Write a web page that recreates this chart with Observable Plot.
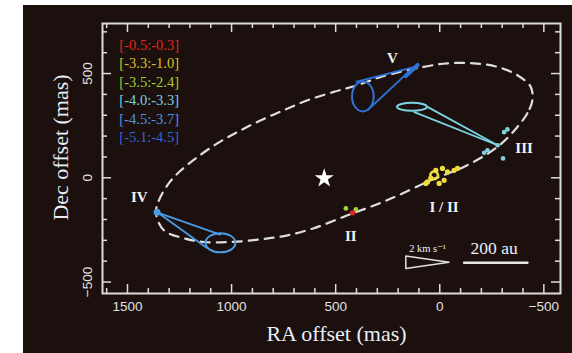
<!DOCTYPE html>
<html>
<head>
<meta charset="utf-8">
<script src="https://cdn.jsdelivr.net/npm/d3@7"></script>
<script src="https://cdn.jsdelivr.net/npm/@observablehq/plot@0.6"></script>
<style>
  html, body { margin: 0; padding: 0; background: #ffffff; }
  #panel { position: absolute; left: 23px; top: 5px; width: 549px; height: 348px; background: #1b100d; }
  #panel svg { display: block; }
</style>
</head>
<body>
<div id="panel"></div>
<script>
// ---- axis ticks ----
const xMajor = [1500, 1000, 500, 0, -500];
const xMajorLabels = ["1500", "1000", "500", "0", "\u2212500"];
const xMinor = [1600, 1400, 1300, 1200, 1100, 900, 800, 700, 600, 400, 300, 200, 100, -100, -200, -300, -400];
const yMajor = [500, 0, -500];
const yMajorLabels = ["500", "0", "\u2212500"];
const yMinor = [700, 600, 400, 300, 200, 100, -100, -200, -300, -400];

// ---- fitted orbit (points read along the dashed ellipse) ----
const orbitRA  = [-445, -421, -373, -277, -115, 43, 251, 443, 605, 731, 859, 1003, 1133, 1229, 1325, 1363, 1349, 1301, 1243, 1163, 1067, 971, 859, 749, 635, 509, 395, 283, 77, -37, -163, -277, -373, -437];
const orbitDec = [372, 310, 244, 148, 52, -12, -107, -180, -242, -276, -295, -308, -308, -290, -252, -170, -108, -26, 36, 100, 166, 220, 276, 324, 372, 412, 444, 484, 532, 549, 549, 532, 492, 436];

// ---- star ----
const starRA = [555], starDec = [-3];

// ---- velocity-range legend ----
const legendLabels = ["[-0.5:-0.3]", "[-3.3:-1.0]", "[-3.5:-2.4]", "[-4.0:-3.3]", "[-4.5:-3.7]", "[-5.1:-4.5]"];
const legendColors = ["#e3261d", "#d9c21f", "#9fcf2e", "#74d2e0", "#4c95e2", "#3166d6"];
const legendRA  = [1539, 1539, 1539, 1539, 1539, 1539];
const legendDec = [636, 548, 459, 370, 282, 193];

// ---- maser spots ----
const yellowRA  = [59, 67, 3, -21, -13, -37, -69, -85, 19, 43];
const yellowDec = [-20, -27, -27, -12, 45, 28, 36, 45, 36, -2];
const yellowRingRA = [27], yellowRingDec = [12];
const greenRA = [451, 403], greenDec = [-147, -152];
const redRA = [419], redDec = [-168];
const cyanRA  = [-325, -309, -229, -213, -304, -278];
const cyanDec = [232, 219, 132, 120, 93, 156];
const ivBlobRA = [1358], ivBlobDec = [-165];

// ---- proper-motion cones: ellipse + two edges to apex ----
const coneNames = ["V", "III", "IV"];
const coneColors = ["#2f72d8", "#7dd3e3", "#4a9be3"];
const ellCX = [367, 131, 1051];
const ellCY = [388, 338, -314];
const ellRX = [52, 72, 72];
const ellRY = [72, 19, 46];
const edgeX1 = [403, 347, 59, 125, 1051, 1115];
const edgeY1 = [460, 324, 340, 316, -274, -339];
const edgeX2 = [125, 125, -278, -278, 1355, 1355];
const edgeY2 = [531, 531, 156, 156, -167, -167];
const edgeColor = ["#2f72d8", "#2f72d8", "#7dd3e3", "#7dd3e3", "#4a9be3", "#4a9be3"];
const vBlob = {x1: [163], y1: [488], x2: [106], y2: [541]};

// ---- feature labels ----
const featLabels = ["V", "III", "I / II", "II", "IV"];
const featRA  = [227, -405, -21, 427, 1443];
const featDec = [573, 141, -140, -280, -92];

// ---- scale indicators ----
const arrowRA  = [163, 163, -45, 163];
const arrowDec = [-375, -435, -405, -375];
const barRA = [-117, -421], barDec = [-408, -408];
const scaleTexts = ["2 km s\u207B\u00B9", "200 au"];
const scaleTextRA = [59, -261], scaleTextDec = [-339, -339];

const W = 549, H = 348, mL = 79, mR = 12, mT = 18, mB = 60;
const FW = W - mL - mR, FH = H - mT - mB;
const axisColor = "#dcdcdc";
const serif = "'Liberation Serif', 'DejaVu Serif', serif";
const sans = "'Liberation Sans', Arial, sans-serif";

const idx = (a) => a.map((_, i) => i);

function ellipseMark(index, scales) {
  const g = d3.create("svg:g");
  for (let i = 0; i < ellCX.length; i++) {
    const cx = scales.x(ellCX[i]), cy = scales.y(ellCY[i]);
    g.append("ellipse")
      .attr("cx", cx).attr("cy", cy)
      .attr("rx", Math.abs(scales.x(ellCX[i] + ellRX[i]) - cx))
      .attr("ry", Math.abs(scales.y(ellCY[i] + ellRY[i]) - cy))
      .attr("fill", "none").attr("stroke", coneColors[i]).attr("stroke-width", 2);
  }
  return g.node();
}

const chart = Plot.plot({
  width: W, height: H,
  marginLeft: mL, marginRight: mR, marginTop: mT, marginBottom: mB,
  x: {domain: [1620, -580], axis: null},
  y: {domain: [-555, 740], axis: null},
  style: {background: "transparent", overflow: "visible"},
  marks: [
    // ticks (pointing inward on all four sides)
    Plot.ruleX(xMinor, {stroke: axisColor, strokeWidth: 1.5, insetTop: FH - 5}),
    Plot.ruleX(xMajor, {stroke: axisColor, strokeWidth: 1.5, insetTop: FH - 9}),
    Plot.ruleX(xMinor, {stroke: axisColor, strokeWidth: 1.5, insetBottom: FH - 5}),
    Plot.ruleX(xMajor, {stroke: axisColor, strokeWidth: 1.5, insetBottom: FH - 9}),
    Plot.ruleY(yMinor, {stroke: axisColor, strokeWidth: 1.5, insetRight: FW - 5}),
    Plot.ruleY(yMajor, {stroke: axisColor, strokeWidth: 1.5, insetRight: FW - 9}),
    Plot.ruleY(yMinor, {stroke: axisColor, strokeWidth: 1.5, insetLeft: FW - 5}),
    Plot.ruleY(yMajor, {stroke: axisColor, strokeWidth: 1.5, insetLeft: FW - 9}),
    Plot.frame({stroke: axisColor, strokeWidth: 2}),

    // tick labels
    Plot.text(idx(xMajor), {x: i => xMajor[i], text: i => xMajorLabels[i], frameAnchor: "bottom", dy: 13,
      lineAnchor: "middle", fill: "#e0e0e0", fontSize: 13.5, fontFamily: sans}),
    Plot.text(idx(yMajor), {y: i => yMajor[i], text: i => yMajorLabels[i], frameAnchor: "left", dx: -15,
      rotate: -90, textAnchor: "middle", lineAnchor: "middle", fill: "#e0e0e0", fontSize: 13.5, fontFamily: sans}),

    // axis titles
    Plot.text(["RA offset (mas)"], {frameAnchor: "bottom", dx: 5, dy: 40, lineAnchor: "middle",
      fill: "#e8eef8", fontSize: 22, fontFamily: serif}),
    Plot.text(["Dec offset (mas)"], {frameAnchor: "left", dx: -42, dy: -11, rotate: -90, textAnchor: "middle",
      lineAnchor: "middle", fill: "#e8eef8", fontSize: 22, fontFamily: serif}),

    // orbit
    Plot.line(idx(orbitRA), {x: i => orbitRA[i], y: i => orbitDec[i], curve: "catmull-rom-closed",
      stroke: "#dedede", strokeWidth: 2.2, strokeDasharray: "9,7"}),

    // cones
    ellipseMark,
    Plot.link(idx(edgeX1), {x1: i => edgeX1[i], y1: i => edgeY1[i], x2: i => edgeX2[i], y2: i => edgeY2[i],
      stroke: i => edgeColor[i], strokeWidth: 1.8}),
    Plot.link([0], {x1: vBlob.x1, y1: vBlob.y1, x2: vBlob.x2, y2: vBlob.y2, stroke: "#2f72d8",
      strokeWidth: 4, strokeLinecap: "round"}),
    Plot.dot(ivBlobRA, {x: d => d, y: (d, i) => ivBlobDec[i], r: 3.5, fill: "#4a9be3"}),

    // spots
    Plot.dot(idx(cyanRA), {x: i => cyanRA[i], y: i => cyanDec[i], r: 2.3, fill: "#7dd3e3"}),
    Plot.dot(idx(yellowRA), {x: i => yellowRA[i], y: i => yellowDec[i], r: 2.6, fill: "#f2dc3c"}),
    Plot.dot(idx(yellowRingRA), {x: i => yellowRingRA[i], y: i => yellowRingDec[i], r: 3.8, stroke: "#f2dc3c",
      strokeWidth: 2.6, fill: "none"}),
    Plot.dot(idx(greenRA), {x: i => greenRA[i], y: i => greenDec[i], r: 2.4, fill: "#9fd33a"}),
    Plot.dot(idx(redRA), {x: i => redRA[i], y: i => redDec[i], r: 2.6, fill: "#e3261d"}),

    // star
    Plot.dot(idx(starRA), {x: i => starRA[i], y: i => starDec[i], symbol: "star", r: 6, fill: "#ffffff"}),

    // legend
    Plot.text(idx(legendLabels), {x: i => legendRA[i], y: i => legendDec[i], text: i => legendLabels[i],
      fill: i => legendColors[i], textAnchor: "start", lineAnchor: "middle", fontSize: 14.5, fontFamily: serif}),

    // feature labels
    Plot.text(idx(featLabels), {x: i => featRA[i], y: i => featDec[i], text: i => featLabels[i],
      fill: "#eef2fa", fontSize: 15, fontWeight: "bold", fontFamily: serif, lineAnchor: "middle"}),

    // scale indicators
    Plot.line(idx(arrowRA), {x: i => arrowRA[i], y: i => arrowDec[i], stroke: "#e0e0e0", strokeWidth: 1.5}),
    Plot.line(idx(barRA), {x: i => barRA[i], y: i => barDec[i], stroke: "#e8e8e8", strokeWidth: 2.5}),
    Plot.text(idx(scaleTexts), {x: i => scaleTextRA[i], y: i => scaleTextDec[i], text: i => scaleTexts[i],
      fill: "#eef2fa", fontSize: i => (i === 0 ? 10.5 : 17.5), fontWeight: i => (i === 0 ? "bold" : "normal"),
      fontFamily: serif, lineAnchor: "middle"})
  ]
});
document.getElementById("panel").appendChild(chart);
</script>
</body>
</html>
